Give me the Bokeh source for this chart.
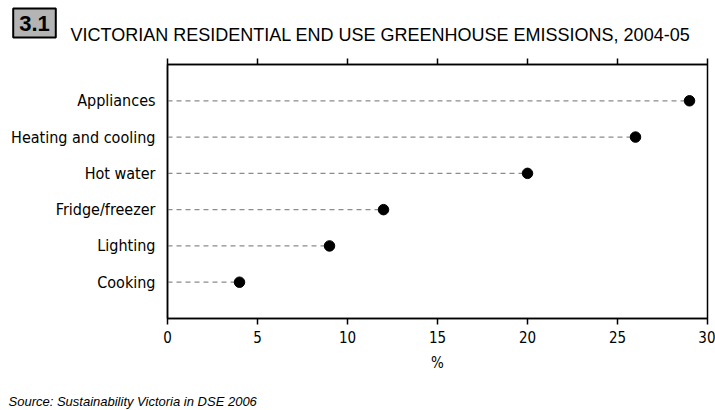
from bokeh.plotting import figure
from bokeh.layouts import column
from bokeh.models import FactorRange, Range1d, LinearAxis, Label, FixedTicker
from bokeh.embed import file_html
from bokeh.resources import INLINE

categories = ["Appliances", "Heating and cooling", "Hot water", "Fridge/freezer", "Lighting", "Cooking"]
values = [29, 26, 20, 12, 9, 4]
x_ticks = [0, 5, 10, 15, 20, 25, 30]
title_num = "3.1"
title_text = "VICTORIAN RESIDENTIAL END USE GREENHOUSE EMISSIONS, 2004-05"
source_text = "Source: Sustainability Victoria in DSE 2006"
x_label = "%"

FONT = "'DejaVu Sans Condensed', 'Liberation Sans', sans-serif"
SANS = "'Liberation Sans', sans-serif"

W = 715
HEAD_H, MAIN_H, FOOT_H = 50, 330, 30
FL, FT, FR, FB = 167, 64, 707, 318  # frame edges in page pixels


def text_strip(height):
    f = figure(width=W, height=height, output_backend="svg", toolbar_location=None,
               x_range=Range1d(0, W), y_range=Range1d(height, 0),
               x_axis_type=None, y_axis_type=None,
               min_border_left=0, min_border_right=0, min_border_top=0, min_border_bottom=0)
    f.grid.visible = False
    f.outline_line_color = None
    f.background_fill_color = "white"
    f.border_fill_color = "white"
    return f


# ---- header: boxed number and title
head = text_strip(HEAD_H)
head.add_layout(Label(x=34, y=22.5, text=title_num, text_align="center", text_baseline="middle",
                      text_font=SANS, text_font_style="bold",
                      text_font_size="22px", text_color="black",
                      background_fill_color="#b4b4b4", border_line_color="black",
                      border_line_width=2, padding=(6, 7)))
head.add_layout(Label(x=70, y=34, text=title_text, text_align="left", text_baseline="middle",
                      text_font=SANS, text_font_size="18px", text_color="black"))

# ---- main chart
main_top = HEAD_H
p = figure(width=W, height=MAIN_H, output_backend="svg", toolbar_location=None,
           y_range=FactorRange(factors=categories[::-1], range_padding=1 / len(categories)),
           x_range=Range1d(x_ticks[0], x_ticks[-1]),
           min_border_left=FL, min_border_top=FT - main_top,
           min_border_bottom=main_top + MAIN_H - FB, min_border_right=W - FR,
           x_axis_location="below")
p.grid.visible = False
p.outline_line_color = "black"
p.outline_line_width = 1.5
p.background_fill_color = "white"
p.border_fill_color = "white"

p.segment(x0=[0] * len(values), y0=categories, x1=values, y1=categories,
          line_color="#8c8c8c", line_width=1.3, line_dash="5 4")
p.scatter(x=values, y=categories, marker="circle", size=10.5, color="black")

xa = p.xaxis[0]
xa.ticker = FixedTicker(ticks=x_ticks)
xa.axis_line_width = 1.5
xa.major_tick_out = 6
xa.major_tick_in = 0
xa.major_tick_line_width = 1.5
xa.minor_tick_line_color = None
xa.major_label_text_font = FONT
xa.major_label_text_font_size = "15px"
xa.major_label_text_color = "black"
xa.axis_label = x_label
xa.axis_label_text_font = FONT
xa.axis_label_text_font_style = "normal"
xa.axis_label_text_font_size = "15px"
xa.axis_label_text_color = "black"
xa.axis_label_standoff = 8
xa.major_label_standoff = 6

ta = LinearAxis(ticker=FixedTicker(ticks=x_ticks),
                major_tick_out=6, major_tick_in=0, major_tick_line_width=1.5,
                minor_tick_line_color=None, axis_line_width=1.5,
                major_label_standoff=0)
ta.major_label_text_alpha = 0
ta.major_label_text_font_size = "1px"
p.add_layout(ta, "above")

ya = p.yaxis[0]
ya.major_tick_line_color = None
ya.minor_tick_line_color = None
ya.axis_line_width = 1.5
ya.major_label_text_font = FONT
ya.major_label_text_font_size = "16px"
ya.major_label_text_color = "black"
ya.major_label_standoff = 6

# ---- footer: source note
foot_top = HEAD_H + MAIN_H
foot = text_strip(FOOT_H)
foot.add_layout(Label(x=8, y=401 - foot_top, text=source_text, text_align="left",
                      text_baseline="middle", text_font=SANS, text_font_style="italic",
                      text_font_size="13px", text_color="black"))

# wrap each plot in its own column so plot frames are not aligned across rows
layout = column(column(head), column(p), column(foot), spacing=0)
open("out.html", "w").write(file_html(layout, INLINE))
